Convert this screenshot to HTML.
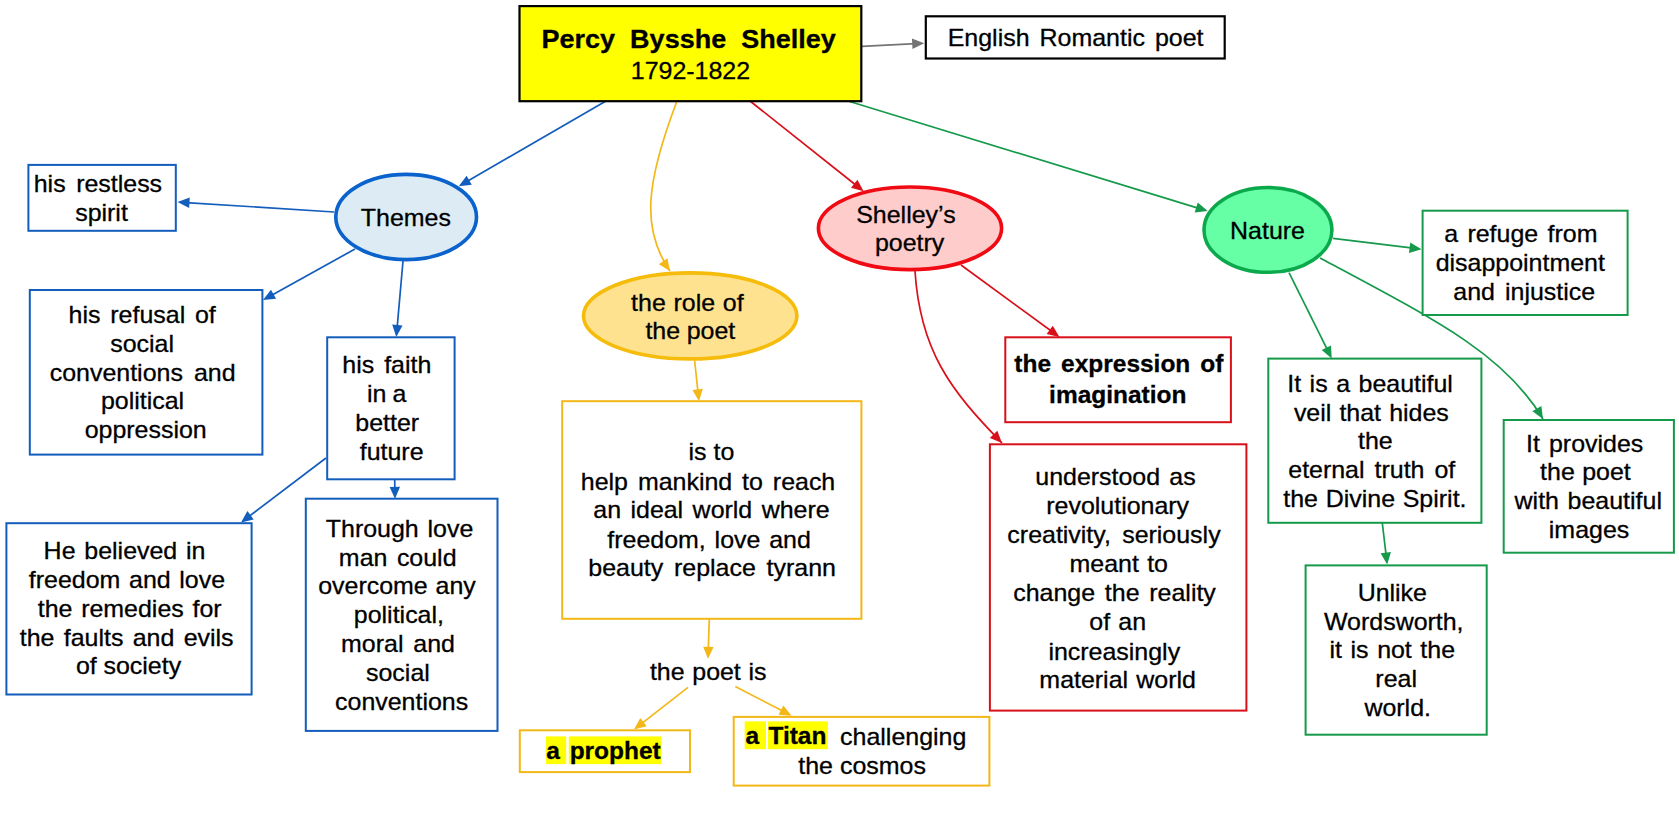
<!DOCTYPE html>
<html><head><meta charset="utf-8"><style>
html,body{margin:0;padding:0;background:#fff;width:1679px;height:830px;overflow:hidden}
svg{display:block}
text{font-family:"Liberation Sans",sans-serif;font-size:24px;fill:#000;stroke:#000;stroke-width:0.3px;white-space:pre}
</style></head><body>
<svg width="1679" height="830" viewBox="0 0 1679 830">
<rect width="1679" height="830" fill="#fff"/>
<path d="M606 101L466.07 181.99" stroke="#135DBC" stroke-width="1.7" fill="none"/>
<polygon points="458.8,186.2 466.58,175.69 471.79,184.69" fill="#135DBC"/>
<path d="M677 101C647 180 640 228 670 271" stroke="#F3B717" stroke-width="1.7" fill="none"/>
<polygon points="670,271 658.87,264.13 667.4,258.18" fill="#F3B717"/>
<path d="M750 101L857.02 185.98" stroke="#D8101A" stroke-width="1.7" fill="none"/>
<polygon points="863.6,191.2 850.97,187.81 857.44,179.67" fill="#D8101A"/>
<path d="M848 101L1199.67 208.64" stroke="#149A4A" stroke-width="1.7" fill="none"/>
<polygon points="1207.7,211.1 1194.7,212.56 1197.75,202.62" fill="#149A4A"/>
<path d="M862 46.3L915.81 43.62" stroke="#747474" stroke-width="1.7" fill="none"/>
<polygon points="924.2,43.2 912.47,48.99 911.96,38.6" fill="#747474"/>
<path d="M334 212L185.88 202.54" stroke="#135DBC" stroke-width="1.7" fill="none"/>
<polygon points="177.5,202 189.81,197.58 189.14,207.95" fill="#135DBC"/>
<path d="M355 249L270.35 295.93" stroke="#135DBC" stroke-width="1.7" fill="none"/>
<polygon points="263,300 270.97,289.63 276.02,298.73" fill="#135DBC"/>
<path d="M403 261L397.04 328.63" stroke="#135DBC" stroke-width="1.7" fill="none"/>
<polygon points="396.3,337 392.17,324.59 402.53,325.5" fill="#135DBC"/>
<path d="M326 458L247.69 517.42" stroke="#135DBC" stroke-width="1.7" fill="none"/>
<polygon points="241,522.5 247.42,511.1 253.7,519.39" fill="#135DBC"/>
<path d="M394.7 479L394.87 490.4" stroke="#135DBC" stroke-width="1.7" fill="none"/>
<polygon points="395,498.8 389.62,486.88 400.02,486.72" fill="#135DBC"/>
<path d="M694.7 361L698.03 392.95" stroke="#F3B717" stroke-width="1.7" fill="none"/>
<polygon points="698.9,401.3 692.48,389.9 702.83,388.83" fill="#F3B717"/>
<path d="M709.3 619L708.27 650.4" stroke="#F3B717" stroke-width="1.7" fill="none"/>
<polygon points="708,658.8 703.19,646.64 713.59,646.98" fill="#F3B717"/>
<path d="M688 687.4L640.62 724.34" stroke="#F3B717" stroke-width="1.7" fill="none"/>
<polygon points="634,729.5 640.27,718.02 646.66,726.22" fill="#F3B717"/>
<path d="M735.3 686.5L784.14 711.83" stroke="#F3B717" stroke-width="1.7" fill="none"/>
<polygon points="791.6,715.7 778.55,714.79 783.34,705.56" fill="#F3B717"/>
<path d="M961 265L1052.62 332.04" stroke="#D8101A" stroke-width="1.7" fill="none"/>
<polygon points="1059.4,337 1046.64,334.11 1052.79,325.72" fill="#D8101A"/>
<path d="M915 271C920 350 950 390 1002 443" stroke="#D8101A" stroke-width="1.7" fill="none"/>
<polygon points="1002,443 989.88,438.08 997.31,430.79" fill="#D8101A"/>
<path d="M1333 238.4L1413.16 248.18" stroke="#149A4A" stroke-width="1.7" fill="none"/>
<polygon points="1421.5,249.2 1408.96,252.91 1410.22,242.58" fill="#149A4A"/>
<path d="M1289 272.6L1327.96 350.98" stroke="#149A4A" stroke-width="1.7" fill="none"/>
<polygon points="1331.7,358.5 1321.7,350.07 1331.01,345.44" fill="#149A4A"/>
<path d="M1320 258C1440 322 1505 355 1543 419" stroke="#149A4A" stroke-width="1.7" fill="none"/>
<polygon points="1543,419 1532.4,411.34 1541.34,406.03" fill="#149A4A"/>
<path d="M1382.3 523L1386.22 556.16" stroke="#149A4A" stroke-width="1.7" fill="none"/>
<polygon points="1387.2,564.5 1380.63,553.19 1390.96,551.97" fill="#149A4A"/>
<rect x="519.5" y="6.1" width="341.8" height="95.1" fill="#FFFF00" stroke="#000000" stroke-width="2.2"/>
<rect x="925.8" y="16.3" width="298.9" height="42.2" fill="#FFFFFF" stroke="#000000" stroke-width="2.2"/>
<rect x="28.4" y="164.9" width="147.4" height="65.9" fill="#FFFFFF" stroke="#135DBC" stroke-width="2.0"/>
<rect x="29.8" y="290" width="232.6" height="164.6" fill="#FFFFFF" stroke="#135DBC" stroke-width="2.0"/>
<rect x="327.2" y="337.3" width="127.4" height="142" fill="#FFFFFF" stroke="#135DBC" stroke-width="2.0"/>
<rect x="6.4" y="523.2" width="245.2" height="171.3" fill="#FFFFFF" stroke="#135DBC" stroke-width="2.0"/>
<rect x="305.8" y="498.7" width="191.7" height="232.2" fill="#FFFFFF" stroke="#135DBC" stroke-width="2.0"/>
<rect x="562.2" y="401.2" width="299.2" height="217.6" fill="#FFFFFF" stroke="#F3B717" stroke-width="2.0"/>
<rect x="519.8" y="730.3" width="170.2" height="41.8" fill="#FFFFFF" stroke="#F3B717" stroke-width="2.0"/>
<rect x="733.7" y="716.9" width="255.7" height="68.7" fill="#FFFFFF" stroke="#F3B717" stroke-width="2.0"/>
<rect x="1005.3" y="337.3" width="225.6" height="84.9" fill="#FFFFFF" stroke="#D8101A" stroke-width="2.0"/>
<rect x="989.9" y="444.3" width="256.5" height="266.3" fill="#FFFFFF" stroke="#D8101A" stroke-width="2.0"/>
<rect x="1422.6" y="210.7" width="205" height="104.3" fill="#FFFFFF" stroke="#149A4A" stroke-width="2.0"/>
<rect x="1268.3" y="358.6" width="213.1" height="164.2" fill="#FFFFFF" stroke="#149A4A" stroke-width="2.0"/>
<rect x="1503.7" y="420" width="170.2" height="132.7" fill="#FFFFFF" stroke="#149A4A" stroke-width="2.0"/>
<rect x="1305.6" y="565.4" width="181.1" height="169.3" fill="#FFFFFF" stroke="#149A4A" stroke-width="2.0"/>
<ellipse cx="406.15" cy="217" rx="70.35" ry="42.6" fill="#DDEBF5" stroke="#0A62CC" stroke-width="3.6"/>
<ellipse cx="690.2" cy="315.9" rx="106.7" ry="43" fill="#FFE28F" stroke="#F5BC0C" stroke-width="3.6"/>
<ellipse cx="910" cy="228.3" rx="91.6" ry="41.3" fill="#FFCCCC" stroke="#F00A14" stroke-width="3.6"/>
<ellipse cx="1267.95" cy="229.9" rx="63.95" ry="42.4" fill="#66FFA6" stroke="#0BA84C" stroke-width="3.6"/>
<rect x="546" y="736.4" width="20.2" height="27.7" fill="#FFFF00"/>
<rect x="568.8" y="736.4" width="92.6" height="27.7" fill="#FFFF00"/>
<rect x="744.7" y="721.4" width="21.3" height="27.8" fill="#FFFF00"/>
<rect x="767.9" y="721.4" width="60" height="27.8" fill="#FFFF00"/>
<text transform="translate(541.46 47.5) scale(1.02 1)" style="font-weight:bold;font-size:26.5px;word-spacing:7.38px;">Percy Bysshe Shelley</text>
<text transform="translate(630.78 79.3) scale(1.04 1)">1792-1822</text>
<text transform="translate(947.72 46.3) scale(1.04 1)" style="word-spacing:2.97px;">English Romantic poet</text>
<text transform="translate(360.78 226) scale(1.04 1)">Themes</text>
<text transform="translate(33.72 192.2) scale(1.04 1)" style="word-spacing:3.48px;">his restless</text>
<text transform="translate(75.16 220.8) scale(1.04 1)">spirit</text>
<text transform="translate(68.62 322.8) scale(1.04 1)" style="word-spacing:2.76px;">his refusal of</text>
<text transform="translate(110.23 352.1) scale(1.04 1)">social</text>
<text transform="translate(49.76 380.7) scale(1.04 1)" style="word-spacing:3.96px;">conventions and</text>
<text transform="translate(100.9 408.9) scale(1.04 1)">political</text>
<text transform="translate(84.66 437.7) scale(1.04 1)">oppression</text>
<text transform="translate(342.32 373.4) scale(1.04 1)" style="word-spacing:2.92px;">his faith</text>
<text transform="translate(366.96 402) scale(1.04 1)" style="word-spacing:-0.88px;">in a</text>
<text transform="translate(355.31 431.1) scale(1.04 1)">better</text>
<text transform="translate(359.75 459.8) scale(1.04 1)">future</text>
<text transform="translate(43.62 559) scale(1.04 1)" style="word-spacing:1.8px;">He believed in</text>
<text transform="translate(28.8 587.9) scale(1.04 1)" style="word-spacing:1.7px;">freedom and love</text>
<text transform="translate(37.7 616.8) scale(1.04 1)" style="word-spacing:1.77px;">the remedies for</text>
<text transform="translate(19.7 645.7) scale(1.04 1)" style="word-spacing:2.33px;">the faults and evils</text>
<text transform="translate(75.96 674.2) scale(1.04 1)" style="word-spacing:-0.19px;">of society</text>
<text transform="translate(325.8 537.4) scale(1.04 1)" style="word-spacing:1.87px;">Through love</text>
<text transform="translate(338.86 565.7) scale(1.04 1)" style="word-spacing:2.48px;">man could</text>
<text transform="translate(318.16 593.9) scale(1.04 1)" style="word-spacing:0.87px;">overcome any</text>
<text transform="translate(353.83 623.1) scale(1.04 1)">political,</text>
<text transform="translate(341.06 652.2) scale(1.04 1)" style="word-spacing:2.83px;">moral and</text>
<text transform="translate(366.03 681) scale(1.04 1)">social</text>
<text transform="translate(335.04 709.6) scale(1.04 1)">conventions</text>
<text transform="translate(631.1 310.5) scale(1.04 1)" style="word-spacing:0.78px;">the role of</text>
<text transform="translate(645.4 339.1) scale(1.04 1)" style="word-spacing:-0.27px;">the poet</text>
<text transform="translate(688.56 460.4) scale(1.04 1)" style="word-spacing:0.02px;">is to</text>
<text transform="translate(580.82 489.7) scale(1.04 1)" style="word-spacing:2.88px;">help mankind to reach</text>
<text transform="translate(593.26 518.2) scale(1.04 1)" style="word-spacing:2.43px;">an ideal world where</text>
<text transform="translate(607.3 547.5) scale(1.04 1)" style="word-spacing:1.86px;">freedom, love and</text>
<text transform="translate(588.36 575.8) scale(1.04 1)" style="word-spacing:3.69px;">beauty replace tyrann</text>
<text transform="translate(649.9 680.3) scale(1.04 1)" style="word-spacing:0.72px;">the poet is</text>
<text transform="translate(546.18 759) scale(1.02 1)" style="font-weight:bold;word-spacing:2.98px;">a prophet</text>
<text transform="translate(745.38 744) scale(1.02 1)" style="font-weight:bold;word-spacing:2.55px;">a Titan</text>
<text transform="translate(840.08 744.7) scale(1.04 1)">challenging</text>
<text transform="translate(798.3 774.3) scale(1.04 1)" style="word-spacing:0.12px;">the cosmos</text>
<text transform="translate(856.23 222.5) scale(1.04 1)">Shelley’s</text>
<text transform="translate(874.99 251.3) scale(1.04 1)">poetry</text>
<text transform="translate(1014.3 371.5) scale(1.02 1)" style="font-weight:bold;word-spacing:3.2px;">the expression of</text>
<text transform="translate(1049.1 402.5) scale(1.02 1)" style="font-weight:bold;">imagination</text>
<text transform="translate(1035.26 484.7) scale(1.04 1)" style="word-spacing:2.21px;">understood as</text>
<text transform="translate(1046.29 514.4) scale(1.04 1)">revolutionary</text>
<text transform="translate(1007.36 543) scale(1.04 1)" style="word-spacing:4.23px;">creativity, seriously</text>
<text transform="translate(1069.56 572.1) scale(1.04 1)" style="word-spacing:1.31px;">meant to</text>
<text transform="translate(1013.26 601.1) scale(1.04 1)" style="word-spacing:2.73px;">change the reality</text>
<text transform="translate(1089.36 629.7) scale(1.04 1)" style="word-spacing:1.12px;">of an</text>
<text transform="translate(1048.39 659.5) scale(1.04 1)">increasingly</text>
<text transform="translate(1039.36 687.5) scale(1.04 1)" style="word-spacing:1.27px;">material world</text>
<text transform="translate(1230.09 238.6) scale(1.04 1)">Nature</text>
<text transform="translate(1444.16 242) scale(1.04 1)" style="word-spacing:2.36px;">a refuge from</text>
<text transform="translate(1435.67 271) scale(1.04 1)">disappointment</text>
<text transform="translate(1453.26 299.7) scale(1.04 1)" style="word-spacing:3.04px;">and injustice</text>
<text transform="translate(1287.22 392) scale(1.04 1)" style="word-spacing:1.53px;">It is a beautiful</text>
<text transform="translate(1293.9 420.6) scale(1.04 1)" style="word-spacing:1.13px;">veil that hides</text>
<text transform="translate(1357.96 449.2) scale(1.04 1)">the</text>
<text transform="translate(1288.26 478.3) scale(1.04 1)" style="word-spacing:2.95px;">eternal truth of</text>
<text transform="translate(1283.3 506.9) scale(1.04 1)" style="word-spacing:0.76px;">the Divine Spirit.</text>
<text transform="translate(1526.12 451.8) scale(1.04 1)" style="word-spacing:2px;">It provides</text>
<text transform="translate(1540.1 480.4) scale(1.04 1)" style="word-spacing:0.5px;">the poet</text>
<text transform="translate(1514.6 509.4) scale(1.04 1)" style="word-spacing:1.67px;">with beautiful</text>
<text transform="translate(1548.81 537.6) scale(1.04 1)">images</text>
<text transform="translate(1357.64 601.3) scale(1.04 1)">Unlike</text>
<text transform="translate(1324.01 629.5) scale(1.04 1)">Wordsworth,</text>
<text transform="translate(1329.56 658.2) scale(1.04 1)" style="word-spacing:1.55px;">it is not the</text>
<text transform="translate(1375.35 686.5) scale(1.04 1)">real</text>
<text transform="translate(1364.41 715.7) scale(1.04 1)">world.</text>
</svg>
</body></html>
